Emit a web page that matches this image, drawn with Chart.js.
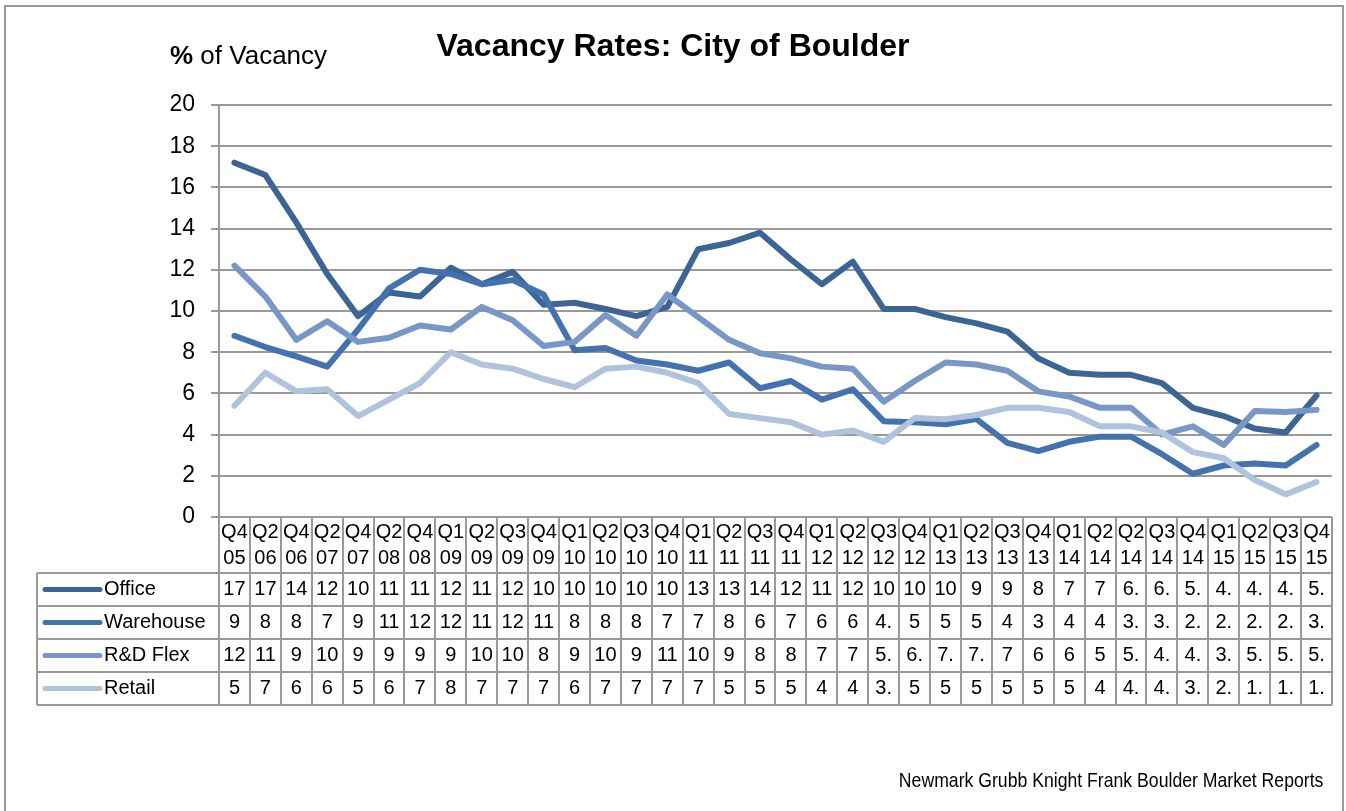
<!DOCTYPE html>
<html lang="en">
<head>
<meta charset="utf-8">
<title>Vacancy Rates: City of Boulder</title>
<script src="https://cdn.jsdelivr.net/npm/chart.js@4.4.1/dist/chart.umd.min.js"></script>
<style>
  body { margin: 0; background: #fff; font-family: "Liberation Sans", Arial, sans-serif; }
  .wrap { position: relative; width: 1346px; height: 811px; overflow: hidden; }
  .frame { position: absolute; left: 4px; top: 5px; width: 1340px; height: 900px; box-sizing: border-box; border: 2px solid #999; }
  canvas { position: absolute; left: 0; top: 0; }
  .title { position: absolute; left: 0; width: 1346px; top: 27px; text-align: center; font-weight: bold; font-size: 32px; color: #000; }
  .ylabel { position: absolute; left: 170px; top: 40px; font-size: 26px; color: #000; }
  .source { position: absolute; right: 23px; top: 768px; font-size: 21px; color: #000; transform: scaleX(0.84); transform-origin: right center; white-space: nowrap; }
</style>
</head>
<body>
<div class="wrap">
  <div class="frame"></div>
  <canvas id="chart" width="1346" height="811"></canvas>
  <div class="title">Vacancy Rates: City of Boulder</div>
  <div class="ylabel"><b>%</b> of Vacancy</div>
  <div class="source">Newmark Grubb Knight Frank Boulder Market Reports</div>
</div>

<script>
// categories
const quarters = ['Q4','Q2','Q4','Q2','Q4','Q2','Q4','Q1','Q2','Q3','Q4','Q1','Q2','Q3','Q4','Q1','Q2','Q3','Q4','Q1','Q2','Q3','Q4','Q1','Q2','Q3','Q4','Q1','Q2','Q2','Q3','Q4','Q1','Q2','Q3','Q4'];
const years = ['05','06','06','07','07','08','08','09','09','09','09','10','10','10','10','11','11','11','11','12','12','12','12','13','13','13','13','14','14','14','14','14','15','15','15','15'];

// series
const office    = [17.2,16.6,14.3,11.8,9.75,10.9,10.7,12.1,11.3,11.9,10.3,10.4,10.1,9.75,10.2,13.0,13.3,13.8,12.5,11.3,12.4,10.1,10.1,9.7,9.4,9.0,7.7,7.0,6.9,6.9,6.5,5.3,4.9,4.3,4.1,5.9];
const warehouse = [8.8,8.25,7.8,7.3,9.1,11.1,12.0,11.8,11.3,11.5,10.8,8.1,8.2,7.6,7.4,7.1,7.5,6.25,6.6,5.7,6.2,4.65,4.6,4.5,4.75,3.6,3.2,3.65,3.9,3.9,3.05,2.1,2.5,2.6,2.5,3.5];
const rdFlex    = [12.2,10.7,8.6,9.5,8.5,8.7,9.3,9.1,10.2,9.55,8.3,8.5,9.8,8.8,10.8,9.7,8.6,7.95,7.7,7.3,7.2,5.6,6.6,7.5,7.4,7.1,6.1,5.85,5.3,5.3,4.0,4.4,3.5,5.15,5.1,5.2];
const retail    = [5.4,7.0,6.1,6.2,4.9,5.7,6.5,8.0,7.4,7.2,6.7,6.3,7.2,7.3,7.0,6.5,5.0,4.8,4.6,4.0,4.2,3.65,4.8,4.75,4.95,5.3,5.3,5.1,4.4,4.4,4.1,3.15,2.85,1.8,1.1,1.7];

// data table text as printed under the chart
const officeText    = ['17','17','14','12','10','11','11','12','11','12','10','10','10','10','10','13','13','14','12','11','12','10','10','10','9','9','8','7','7','6.','6.','5.','4.','4.','4.','5.'];
const warehouseText = ['9','8','8','7','9','11','12','12','11','12','11','8','8','8','7','7','8','6','7','6','6','4.','5','5','5','4','3','4','4','3.','3.','2.','2.','2.','2.','3.'];
const rdFlexText    = ['12','11','9','10','9','9','9','9','10','10','8','9','10','9','11','10','9','8','8','7','7','5.','6.','7.','7.','7','6','6','5','5.','4.','4.','3.','5.','5.','5.'];
const retailText    = ['5','7','6','6','5','6','7','8','7','7','7','6','7','7','7','7','5','5','5','4','4','3.','5','5','5','5','5','5','4','4.','4.','3.','2.','1.','1.','1.'];

const yTicks = [0, 2, 4, 6, 8, 10, 12, 14, 16, 18, 20];

const seriesNames = ['Office', 'Warehouse', 'R&D Flex', 'Retail'];
const seriesColors = ['#3C6494', '#4472AE', '#7896C6', '#B0C2DC'];
const seriesValues = [office, warehouse, rdFlex, retail];
const seriesText = [officeText, warehouseText, rdFlexText, retailText];

const gridGray = '#999';
const font = '"Liberation Sans", Arial, sans-serif';

// draws the data table under the plot, lined up with the x scale
const dataTable = {
  id: 'dataTable',
  afterDraw(chart) {
    const ctx = chart.ctx;
    const xs = chart.scales.x;
    const area = chart.chartArea;
    const colW = xs.getPixelForValue(1) - xs.getPixelForValue(0);
    const top = area.bottom;
    const headBottom = 573;
    const rowH = 33;
    const tableBottom = headBottom + rowH * 4;
    const leftX = 37;

    ctx.save();
    ctx.strokeStyle = gridGray;
    ctx.lineWidth = 2;

    // column lines
    for (let i = 0; i <= quarters.length; i++) {
      const x = Math.round(xs.getPixelForValue(0) - colW / 2 + i * colW);
      ctx.beginPath();
      ctx.moveTo(x, top);
      ctx.lineTo(x, tableBottom);
      ctx.stroke();
    }
    // row lines
    for (let r = 0; r <= 4; r++) {
      const y = headBottom + r * rowH;
      ctx.beginPath();
      ctx.moveTo(leftX, y);
      ctx.lineTo(area.right, y);
      ctx.stroke();
    }
    ctx.beginPath();
    ctx.moveTo(leftX, headBottom);
    ctx.lineTo(leftX, tableBottom);
    ctx.stroke();

    ctx.fillStyle = '#000';
    ctx.font = '20px ' + font;
    ctx.textAlign = 'center';
    ctx.textBaseline = 'middle';
    quarters.forEach((q, i) => {
      const x = xs.getPixelForValue(i);
      ctx.fillText(q, x, 532);
      ctx.fillText(years[i], x, 558);
    });

    seriesNames.forEach((name, r) => {
      const cy = headBottom + r * rowH + rowH / 2;
      // legend key
      ctx.strokeStyle = seriesColors[r];
      ctx.lineWidth = 5;
      ctx.lineCap = 'round';
      ctx.beginPath();
      ctx.moveTo(45, cy);
      ctx.lineTo(100, cy);
      ctx.stroke();
      ctx.textAlign = 'left';
      ctx.fillText(name, 104, cy);
      ctx.textAlign = 'center';
      seriesText[r].forEach((t, i) => {
        ctx.fillText(t, xs.getPixelForValue(i), cy);
      });
    });
    ctx.restore();
  }
};

new Chart(document.getElementById('chart'), {
  type: 'line',
  data: {
    labels: quarters.map((q, i) => q + ' ' + years[i]),
    datasets: seriesNames.map((name, i) => ({
      label: name,
      data: seriesValues[i],
      borderColor: seriesColors[i],
      backgroundColor: seriesColors[i],
      borderWidth: 6,
      borderJoinStyle: 'round',
      borderCapStyle: 'round',
      pointRadius: 0,
      tension: 0,
      order: 4 - i
    }))
  },
  options: {
    responsive: false,
    animation: false,
    devicePixelRatio: 1,
    layout: { padding: { left: 0, right: 14, top: 105, bottom: 294 } },
    plugins: { legend: { display: false }, tooltip: { enabled: false }, title: { display: false } },
    scales: {
      x: { type: 'category', display: false, offset: true },
      y: {
        min: 0,
        max: 20,
        afterFit: s => { s.width = 219; },
        afterBuildTicks: s => { s.ticks = yTicks.map(v => ({ value: v })); },
        ticks: { color: '#000', font: { family: font, size: 23 }, padding: 16 },
        grid: { color: gridGray, lineWidth: 2, tickLength: 8, drawTicks: true },
        border: { color: gridGray, width: 2 }
      }
    }
  },
  plugins: [dataTable]
});
</script>
</body>
</html>
